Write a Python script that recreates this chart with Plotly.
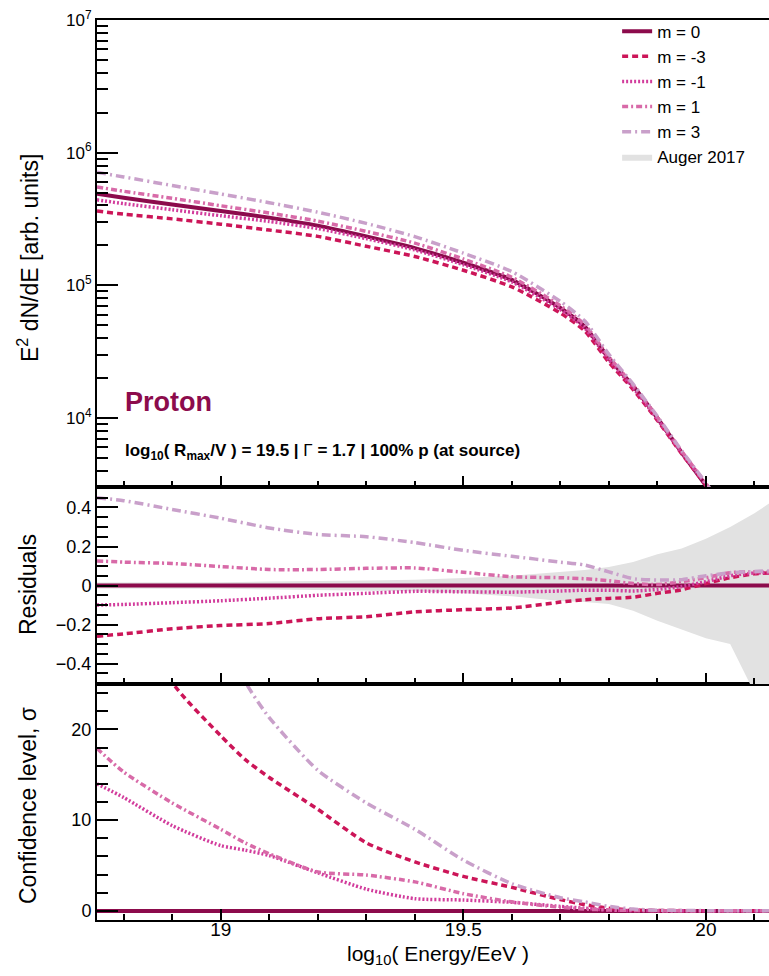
import plotly.graph_objects as go

# ---------------- data ----------------
energy = [18.745, 18.8, 18.9, 19.0, 19.1, 19.2, 19.3, 19.4, 19.5, 19.6, 19.7, 19.75,
          19.8, 19.85, 19.9, 19.95, 20.0, 20.05, 20.1, 20.13]

flux_m0 = [4.90e5, 4.57e5, 4.07e5, 3.63e5, 3.24e5, 2.82e5, 2.34e5, 1.91e5, 1.48e5, 1.10e5,
           6.76e4, 4.90e4, 2.82e4, 1.74e4, 1.00e4, 5.50e3, 3.09e3, 1.66e3, 8.9e2, 6.3e2]
flux_mm3 = [3.63e5, 3.44e5, 3.17e5, 2.89e5, 2.61e5, 2.34e5, 1.97e5, 1.65e5, 1.30e5, 9.74e4,
            6.19e4, 4.54e4, 2.63e4, 1.64e4, 9.6e3, 5.38e3, 3.12e3, 1.73e3, 9.4e2, 6.7e2]
flux_mm1 = [4.41e5, 4.13e5, 3.71e5, 3.35e5, 3.03e5, 2.68e5, 2.25e5, 1.85e5, 1.43e5, 1.06e5,
            6.57e4, 4.78e4, 2.75e4, 1.69e4, 9.8e3, 5.47e3, 3.15e3, 1.74e3, 9.5e2, 6.7e2]
flux_m1 = [5.52e5, 5.12e5, 4.53e5, 3.98e5, 3.51e5, 3.05e5, 2.55e5, 2.08e5, 1.58e5, 1.15e5,
           7.03e4, 5.07e4, 2.89e4, 1.76e4, 1.01e4, 5.61e3, 3.21e3, 1.77e3, 9.5e2, 6.7e2]
flux_m3 = [7.11e5, 6.56e5, 5.66e5, 4.88e5, 4.20e5, 3.56e5, 2.93e5, 2.33e5, 1.75e5, 1.27e5,
           7.57e4, 5.41e4, 3.02e4, 1.80e4, 1.03e4, 5.67e3, 3.24e3, 1.77e3, 9.5e2, 6.8e2]

res_m0 = [0.0] * 20
res_mm3 = [-0.26, -0.248, -0.222, -0.205, -0.195, -0.17, -0.16, -0.135, -0.124, -0.115,
           -0.085, -0.073, -0.066, -0.06, -0.04, -0.022, 0.01, 0.04, 0.06, 0.064]
res_mm1 = [-0.10, -0.097, -0.088, -0.078, -0.065, -0.05, -0.04, -0.03, -0.032, -0.034,
           -0.028, -0.024, -0.024, -0.028, -0.02, -0.005, 0.02, 0.05, 0.064, 0.065]
res_m1 = [0.126, 0.12, 0.113, 0.097, 0.082, 0.082, 0.088, 0.09, 0.068, 0.045,
          0.04, 0.035, 0.025, 0.01, 0.005, 0.02, 0.04, 0.066, 0.07, 0.07]
res_m3 = [0.45, 0.435, 0.39, 0.345, 0.295, 0.262, 0.25, 0.22, 0.18, 0.15,
          0.12, 0.105, 0.07, 0.035, 0.028, 0.03, 0.05, 0.065, 0.072, 0.075]

auger_hi = [0.015, 0.015, 0.016, 0.017, 0.02, 0.022, 0.026, 0.03, 0.038, 0.05,
            0.07, 0.08, 0.095, 0.12, 0.16, 0.19, 0.24, 0.30, 0.37, 0.42]
auger_lo = [-0.015, -0.015, -0.016, -0.017, -0.02, -0.022, -0.026, -0.03, -0.04, -0.055,
            -0.08, -0.085, -0.095, -0.13, -0.18, -0.225, -0.27, -0.30, -0.55, -0.7]

energy_cl = [18.745, 18.8, 18.9, 19.0, 19.05, 19.1, 19.2, 19.3, 19.4, 19.5, 19.6, 19.7,
             19.75, 19.8, 19.85, 19.9, 20.0, 20.13]
cl_m0 = [0.0] * 18
cl_mm3 = [45, 38, 25.2, 19.3, 16.7, 14.7, 11.2, 7.5, 5.4, 3.8, 2.6, 1.25, 0.7, 0.3, 0.1, 0.05, 0.02, 0.02]
cl_mm1 = [14.0, 12.5, 9.4, 7.2, 6.7, 6.1, 4.2, 2.4, 1.35, 1.2, 0.95, 0.5, 0.3, 0.1, 0.05, 0.03, 0.02, 0.02]
cl_m1 = [17.9, 15.3, 11.9, 9.0, 7.5, 6.3, 4.3, 3.95, 3.2, 1.9, 1.0, 0.4, 0.2, 0.1, 0.05, 0.03, 0.02, 0.02]
cl_m3 = [70, 60, 45, 32, 25.3, 21.3, 15.5, 11.9, 9.0, 5.6, 3.0, 1.45, 1.0, 0.5, 0.2, 0.08, 0.03, 0.02]

names = ["m = 0", "m = -3", "m = -1", "m = 1", "m = 3"]
colors = ["#8c0b4c", "#cc1558", "#d23c9c", "#d86aa8", "#c9a0ca"]
dashes = ["solid", "6px,4px", "2px,2px", "6px,3px,2px,3px", "9px,4px,2px,4px"]
widths = [4, 3.5, 3.5, 3.5, 3.5]

flux_sets = [flux_m0, flux_mm3, flux_mm1, flux_m1, flux_m3]
res_sets = [res_m0, res_mm3, res_mm1, res_m1, res_m3]
cl_sets = [cl_m0, cl_mm3, cl_mm1, cl_m1, cl_m3]

FONT = "Liberation Sans, Arial, sans-serif"

fig = go.Figure()

band_x = energy + energy[::-1]
band_y = auger_hi + auger_lo[::-1]

for i in range(5):
    fig.add_trace(go.Scatter(x=energy, y=flux_sets[i], mode="lines", name=names[i],
                             legendgroup=names[i], showlegend=True,
                             line=dict(color=colors[i], width=widths[i], dash=dashes[i],
                                       shape="spline", smoothing=0.6),
                             xaxis="x3", yaxis="y"))

fig.add_trace(go.Scatter(x=band_x, y=band_y, fill="toself", fillcolor="#e2e2e2",
                         line=dict(width=0, color="#e2e2e2"), mode="lines",
                         name="Auger 2017", showlegend=True,
                         xaxis="x2", yaxis="y2"))

for i in range(5):
    fig.add_trace(go.Scatter(x=energy, y=res_sets[i], mode="lines", name=names[i],
                             legendgroup=names[i], showlegend=False,
                             line=dict(color=colors[i], width=widths[i], dash=dashes[i],
                                       shape="spline", smoothing=0.6),
                             xaxis="x2", yaxis="y2"))

for i in range(5):
    fig.add_trace(go.Scatter(x=energy_cl, y=cl_sets[i], mode="lines", name=names[i],
                             legendgroup=names[i], showlegend=False,
                             line=dict(color=colors[i], width=widths[i], dash=dashes[i],
                                       shape="spline", smoothing=0.6),
                             xaxis="x", yaxis="y3"))

xr = [18.745, 20.13]
common_x = dict(range=xr, showline=True, linecolor="black", linewidth=2, mirror=True,
                ticks="inside", ticklen=11, tickwidth=1.5, tickcolor="black",
                tickvals=[19, 19.5, 20], showgrid=False, zeroline=False, automargin=False,
                minor=dict(ticks="inside", ticklen=6, dtick=0.1, tick0=18.7,
                           tickcolor="black", tickwidth=1.5, showgrid=False))

minor_log = []
for dec in [1e3, 1e4, 1e5, 1e6]:
    for k in range(2, 10):
        minor_log.append(k * dec)

d_bot = 0.2622
d_mid = 0.4811

fig.update_layout(
    width=769, height=976,
    margin=dict(l=97, r=0, t=20, b=56, autoexpand=False),
    paper_bgcolor="white", plot_bgcolor="white",
    font=dict(family=FONT, size=18, color="black"),
    showlegend=True,
    legend=dict(x=0.774, y=1.007, xanchor="left", yanchor="top",
                bgcolor="rgba(0,0,0,0)", font=dict(size=17, family=FONT),
                tracegroupgap=0, itemwidth=30),
    xaxis=dict(**common_x, anchor="y3", showticklabels=True, ticklabelstandoff=-9,
               tickfont=dict(size=19, family=FONT)),
    xaxis2=dict(**common_x, anchor="y2", matches="x", showticklabels=False),
    xaxis3=dict(**common_x, anchor="y", matches="x", showticklabels=False),
    yaxis=dict(domain=[d_mid, 1.0], type="log", range=[3.48, 7.0], anchor="x3",
               showline=True, linecolor="black", linewidth=2, mirror=False, automargin=False,
               ticks="inside", ticklen=21, tickwidth=1.5, tickcolor="black",
               tickvals=[1e4, 1e5, 1e6, 1e7],
               ticktext=["10<sup>4</sup>", "10<sup>5</sup>", "10<sup>6</sup>", "10<sup>7</sup>"],
               tickfont=dict(size=17, family=FONT),
               minor=dict(ticks="inside", ticklen=11, tickvals=minor_log,
                          tickcolor="black", tickwidth=1.5, showgrid=False),
               showgrid=False, zeroline=False),
    yaxis2=dict(domain=[d_bot, d_mid], range=[-0.505, 0.505], anchor="x2",
                showline=True, linecolor="black", linewidth=2, mirror=False, automargin=False,
                ticks="inside", ticklen=21, tickwidth=1.5, tickcolor="black",
                tickvals=[-0.4, -0.2, 0, 0.2, 0.4],
                ticktext=["\u22120.4", "\u22120.2", "0", "0.2", "0.4"],
                tickfont=dict(size=18, family=FONT),
                minor=dict(ticks="inside", ticklen=11, dtick=0.05, tick0=0,
                           tickcolor="black", tickwidth=1.5, showgrid=False),
                showgrid=False, zeroline=False),
    yaxis3=dict(domain=[0, d_bot], range=[-1, 25], anchor="x",
                showline=True, linecolor="black", linewidth=2, mirror=False, automargin=False,
                ticks="inside", ticklen=21, tickwidth=1.5, tickcolor="black",
                tickvals=[0, 10, 20],
                tickfont=dict(size=18, family=FONT),
                minor=dict(ticks="inside", ticklen=11, dtick=2, tick0=0,
                           tickcolor="black", tickwidth=1.5, showgrid=False),
                showgrid=False, zeroline=False),
)

ann = []
ann.append(dict(text="E<sup>2</sup> dN/dE [arb. units]", xref="paper", yref="paper",
                x=(28 - 97) / 672, y=(920 - 258) / 900, textangle=-90,
                xanchor="center", yanchor="middle", showarrow=False,
                font=dict(size=23, family=FONT)))
ann.append(dict(text="Residuals", xref="paper", yref="paper",
                x=(28 - 97) / 672, y=(920 - 585) / 900, textangle=-90,
                xanchor="center", yanchor="middle", showarrow=False,
                font=dict(size=23, family=FONT)))
ann.append(dict(text="Confidence level, \u03c3", xref="paper", yref="paper",
                x=(28 - 97) / 672, y=(920 - 806) / 900, textangle=-90,
                xanchor="center", yanchor="middle", showarrow=False,
                font=dict(size=23, family=FONT)))
ann.append(dict(text="log<sub>10</sub>( Energy/EeV )", xref="paper", yref="paper",
                x=(438 - 97) / 672, y=(920 - 955) / 900,
                xanchor="center", yanchor="middle", showarrow=False,
                font=dict(size=21, family=FONT)))
ann.append(dict(text="<b>Proton</b>", xref="paper", yref="paper",
                x=(123 - 97) / 672, y=(920 - 402) / 900,
                xanchor="left", yanchor="middle", showarrow=False,
                font=dict(size=27, family=FONT, color="#8c0b4c")))
ann.append(dict(text="<b>log<sub>10</sub>( R<sub>max</sub>/V ) = 19.5 | </b>\u0393<b> = 1.7 | 100% p (at source)</b>",
                xref="paper", yref="paper",
                x=(123 - 97) / 672, y=(920 - 452) / 900,
                xanchor="left", yanchor="middle", showarrow=False,
                font=dict(size=17, family=FONT)))
fig.update_layout(annotations=ann)

fig.write_html("out.html", config={"displayModeBar": False},
               post_script="document.body.style.margin='0';document.body.style.overflow='hidden';")
